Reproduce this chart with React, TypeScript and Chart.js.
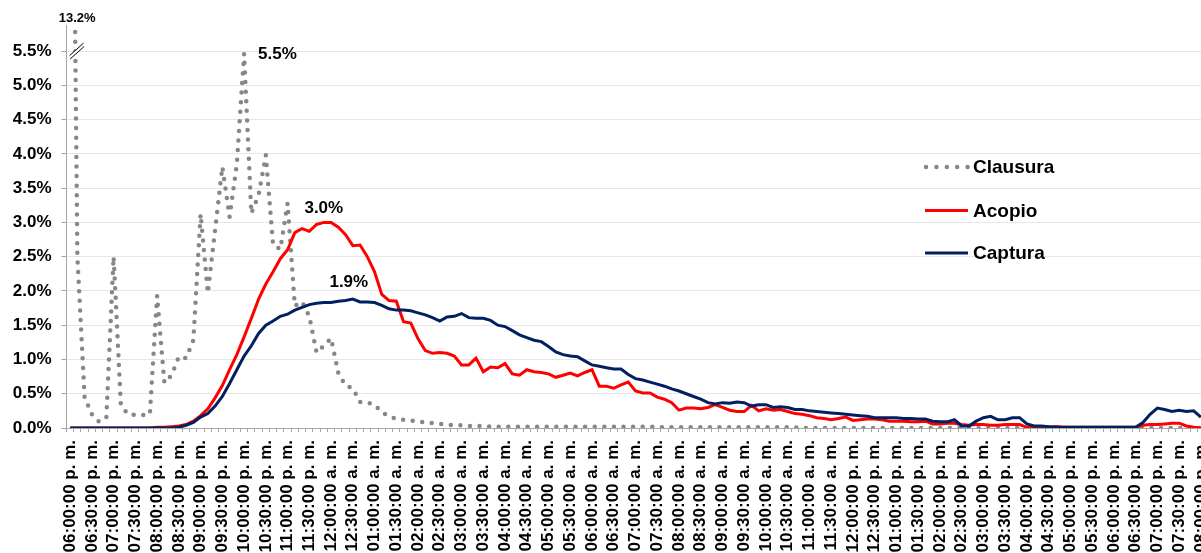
import React, { useEffect, useRef } from 'react';
import { Chart, registerables } from 'chart.js';

Chart.register(...registerables);

// ---------- data ----------
const TICK_LABELS = [
  '06:00:00 p. m.', '06:30:00 p. m.', '07:00:00 p. m.', '07:30:00 p. m.', '08:00:00 p. m.', '08:30:00 p. m.',
  '09:00:00 p. m.', '09:30:00 p. m.', '10:00:00 p. m.', '10:30:00 p. m.', '11:00:00 p. m.', '11:30:00 p. m.',
  '12:00:00 a. m.', '12:30:00 a. m.', '01:00:00 a. m.', '01:30:00 a. m.', '02:00:00 a. m.', '02:30:00 a. m.',
  '03:00:00 a. m.', '03:30:00 a. m.', '04:00:00 a. m.', '04:30:00 a. m.', '05:00:00 a. m.', '05:30:00 a. m.',
  '06:00:00 a. m.', '06:30:00 a. m.', '07:00:00 a. m.', '07:30:00 a. m.', '08:00:00 a. m.', '08:30:00 a. m.',
  '09:00:00 a. m.', '09:30:00 a. m.', '10:00:00 a. m.', '10:30:00 a. m.', '11:00:00 a. m.', '11:30:00 a. m.',
  '12:00:00 p. m.', '12:30:00 p. m.', '01:00:00 p. m.', '01:30:00 p. m.', '02:00:00 p. m.', '02:30:00 p. m.',
  '03:00:00 p. m.', '03:30:00 p. m.', '04:00:00 p. m.', '04:30:00 p. m.', '05:00:00 p. m.', '05:30:00 p. m.',
  '06:00:00 p. m.', '06:30:00 p. m.', '07:00:00 p. m.', '07:30:00 p. m.', '08:00:00 p. m.',
];

// one value every 10 minutes, 06:00 p. m. -> 08:00 p. m. (157 points)
const CLAUSURA = [
  13.2, 2.5, 0.44, 0.2, 0.09, 0.16, 2.5, 0.33, 0.2, 0.19,
  0.19, 0.2, 1.93, 0.66, 0.77, 1.04, 1.02, 1.28, 3.12, 1.97,
  2.89, 3.81, 3.08, 3.85, 5.46, 3.13, 3.4, 3.98, 2.67, 2.61,
  3.28, 1.78, 1.84, 1.63, 1.1, 1.2, 1.31, 0.8, 0.62, 0.58,
  0.38, 0.37, 0.34, 0.23, 0.17, 0.13, 0.12, 0.11, 0.1, 0.08,
  0.07, 0.06, 0.05, 0.04, 0.04, 0.03, 0.03, 0.03, 0.02, 0.02,
  0.02, 0.02, 0.02, 0.02, 0.02, 0.02, 0.02, 0.02, 0.02, 0.02,
  0.02, 0.02, 0.02, 0.02, 0.02, 0.02, 0.02, 0.02, 0.02, 0.02,
  0.02, 0.01, 0.01, 0.01, 0.01, 0.01, 0.01, 0.01, 0.01, 0.01,
  0.01, 0.01, 0.01, 0.01, 0.01, 0.01, 0.01, 0.01, 0.01, 0.01,
  0.01, 0, 0, 0, 0, 0, 0, 0, 0, 0,
  0, 0, 0, 0, 0, 0, 0, 0, 0, 0,
  0, 0, 0, 0, 0, 0, 0, 0, 0, 0,
  0, 0, 0, 0, 0, 0, 0, 0, 0, 0,
  0, 0, 0, 0, 0, 0, 0, 0, 0, 0,
  0, 0, 0, 0, 0, 0, 0,
];

const ACOPIO = [
  0, 0, 0, 0, 0, 0, 0, 0, 0, 0,
  0, 0, 0.01, 0.01, 0.02, 0.03, 0.05, 0.1, 0.18, 0.28,
  0.44, 0.62, 0.85, 1.07, 1.33, 1.6, 1.88, 2.1, 2.28, 2.47,
  2.6, 2.85, 2.91, 2.87, 2.97, 3.0, 3.0, 2.93, 2.82, 2.66,
  2.67, 2.5, 2.28, 1.95, 1.86, 1.85, 1.55, 1.53, 1.3, 1.13,
  1.09, 1.1, 1.09, 1.05, 0.92, 0.92, 1.02, 0.82, 0.89, 0.88,
  0.94, 0.79, 0.77, 0.85, 0.82, 0.81, 0.79, 0.74, 0.77, 0.8,
  0.76, 0.81, 0.85, 0.61, 0.61, 0.58, 0.63, 0.67, 0.54, 0.51,
  0.51, 0.45, 0.42, 0.37, 0.26, 0.29, 0.29, 0.28, 0.3, 0.34,
  0.3, 0.26, 0.24, 0.24, 0.33, 0.25, 0.28, 0.26, 0.27, 0.24,
  0.21, 0.2, 0.18, 0.15, 0.14, 0.12, 0.14, 0.16, 0.11, 0.12,
  0.13, 0.13, 0.12, 0.1, 0.1, 0.1, 0.09, 0.09, 0.1, 0.06,
  0.06, 0.07, 0.07, 0.05, 0.04, 0.05, 0.05, 0.04, 0.04, 0.05,
  0.05, 0.05, 0.01, 0.01, 0, 0.01, 0.02, 0.01, 0.01, 0.01,
  0.01, 0.01, 0.01, 0.01, 0.01, 0.01, 0.01, 0.01, 0.04, 0.05,
  0.05, 0.06, 0.07, 0.07, 0.03, 0.01, 0,
];

const CAPTURA = [
  0, 0, 0, 0, 0, 0, 0, 0, 0, 0,
  0, 0, 0, 0, 0, 0.01, 0.04, 0.08, 0.16, 0.21,
  0.32, 0.46, 0.65, 0.85, 1.05, 1.2, 1.38, 1.5, 1.56, 1.63,
  1.66, 1.72, 1.76, 1.8, 1.82, 1.83, 1.83, 1.85, 1.86, 1.88,
  1.84, 1.84, 1.83, 1.79, 1.74, 1.72, 1.72, 1.71, 1.68, 1.65,
  1.61, 1.56, 1.62, 1.63, 1.67, 1.61, 1.6, 1.6, 1.57, 1.5,
  1.48, 1.42, 1.36, 1.32, 1.28, 1.26, 1.19, 1.11, 1.07, 1.05,
  1.04, 0.98, 0.92, 0.9, 0.88, 0.86, 0.86, 0.78, 0.72, 0.7,
  0.67, 0.64, 0.61, 0.57, 0.54, 0.5, 0.46, 0.42, 0.37, 0.35,
  0.37, 0.36, 0.38, 0.37, 0.32, 0.34, 0.34, 0.3, 0.31, 0.3,
  0.27, 0.27, 0.25, 0.24, 0.23, 0.22, 0.21, 0.2, 0.19, 0.18,
  0.17, 0.15, 0.15, 0.15, 0.15, 0.14, 0.14, 0.13, 0.13, 0.1,
  0.09, 0.09, 0.12, 0.03, 0.03, 0.1, 0.15, 0.17, 0.12, 0.12,
  0.15, 0.15, 0.06, 0.03, 0.03, 0.02, 0.01, 0.01, 0.01, 0.01,
  0.01, 0.01, 0.01, 0.01, 0.01, 0.01, 0.01, 0.01, 0.08, 0.2,
  0.29, 0.27, 0.24, 0.26, 0.24, 0.25, 0.16,
];

const SERIES_NAMES = ['Clausura', 'Acopio', 'Captura'];
const Y_MAX = 5.88;
const Y_TOP_TICK = 5.5;

// ---------- styles ----------
const FONT = '"Liberation Sans", Arial, sans-serif';
const GREY_DOTS = '#878787';
const RED = '#ff0000';
const NAVY = '#002060';
const AXIS = '#a6a6a6';
const GRID = '#e6e6e6';
const CANVAS_W = 1240;
const CANVAS_H = 553;
const PLOT_LEFT = 66.5;
const PLOT_RIGHT = 1204.5;
const PLOT_TOP = 25;
const PLOT_BOTTOM = 428;
const DOT_DASH = [0, 9.6];

export default function App() {
  const ref = useRef<HTMLCanvasElement | null>(null);

  useEffect(() => {
    if (!ref.current) return;
    const categories = CLAUSURA.map((_, i) => (i % 3 === 0 ? TICK_LABELS[i / 3] ?? '' : ''));

    const decor = {
      id: 'decor',
      afterDatasetsDraw(chart: any) {
        const ctx = chart.ctx as CanvasRenderingContext2D;
        const xs = chart.scales.x;
        const ys = chart.scales.y;
        ctx.save();

        // axis break mark on the first (off-scale) point
        const cx = xs.getPixelForValue(0) + 6.5;
        const cy = ys.getPixelForValue(Y_TOP_TICK) + 0.5;
        ctx.fillStyle = '#ffffff';
        ctx.beginPath();
        ctx.moveTo(cx - 7, cy + 4);
        ctx.lineTo(cx + 7, cy - 8.5);
        ctx.lineTo(cx + 7.5, cy - 5);
        ctx.lineTo(cx - 6.5, cy + 7.5);
        ctx.closePath();
        ctx.fill();
        ctx.strokeStyle = '#000000';
        ctx.lineWidth = 1;
        ctx.beginPath();
        ctx.moveTo(cx - 7, cy + 4);
        ctx.lineTo(cx + 7, cy - 8.5);
        ctx.moveTo(cx - 6.5, cy + 7.5);
        ctx.lineTo(cx + 7.5, cy - 5);
        ctx.stroke();

        // data labels
        ctx.fillStyle = '#000000';
        ctx.textBaseline = 'middle';
        ctx.font = `bold 13px ${FONT}`;
        ctx.textAlign = 'center';
        ctx.fillText(`${CLAUSURA[0].toFixed(1)}%`, xs.getPixelForValue(0) + 7, chart.chartArea.top - 7);

        ctx.font = `bold 17px ${FONT}`;
        const iC = CLAUSURA.indexOf(Math.max(...CLAUSURA.slice(1)));
        ctx.textAlign = 'left';
        ctx.fillText(`${CLAUSURA[iC].toFixed(1)}%`, xs.getPixelForValue(iC) + 14, ys.getPixelForValue(CLAUSURA[iC]) + 1);

        const aMax = Math.max(...ACOPIO);
        const iA = ACOPIO.indexOf(aMax);
        ctx.textAlign = 'center';
        ctx.fillText(`${aMax.toFixed(1)}%`, xs.getPixelForValue(iA), ys.getPixelForValue(aMax) - 14);

        const bMax = Math.max(...CAPTURA);
        const iB = CAPTURA.indexOf(bMax);
        ctx.fillText(`${bMax.toFixed(1)}%`, xs.getPixelForValue(iB) - 4, ys.getPixelForValue(bMax) - 17);

        // legend
        const lx0 = 926;
        const lx1 = 968;
        const rows = [167, 210.5, 253];
        ctx.lineCap = 'round';
        ctx.lineWidth = 4.5;
        ctx.strokeStyle = GREY_DOTS;
        ctx.setLineDash([0, 10.4]);
        ctx.beginPath();
        ctx.moveTo(lx0, rows[0]);
        ctx.lineTo(lx1 + 0.5, rows[0]);
        ctx.stroke();
        ctx.setLineDash([]);
        ctx.lineCap = 'butt';
        ctx.lineWidth = 3;
        ctx.strokeStyle = RED;
        ctx.beginPath();
        ctx.moveTo(lx0 - 1, rows[1]);
        ctx.lineTo(lx1, rows[1]);
        ctx.stroke();
        ctx.strokeStyle = NAVY;
        ctx.beginPath();
        ctx.moveTo(lx0 - 1, rows[2]);
        ctx.lineTo(lx1, rows[2]);
        ctx.stroke();

        ctx.fillStyle = '#000000';
        ctx.font = `bold 19px ${FONT}`;
        ctx.textAlign = 'left';
        ctx.textBaseline = 'middle';
        SERIES_NAMES.forEach((n, k) => ctx.fillText(n, 973, rows[k] + 1));

        ctx.restore();
      },
    };

    const chart = new Chart(ref.current, {
      type: 'line',
      data: {
        labels: categories,
        datasets: [
          {
            label: SERIES_NAMES[0],
            data: CLAUSURA,
            borderColor: GREY_DOTS,
            borderWidth: 4.5,
            borderDash: DOT_DASH,
            borderCapStyle: 'round',
            borderJoinStyle: 'round',
            pointRadius: 0,
            fill: false,
            order: 3,
          },
          {
            label: SERIES_NAMES[1],
            data: ACOPIO,
            borderColor: RED,
            borderWidth: 3,
            pointRadius: 0,
            fill: false,
            order: 2,
          },
          {
            label: SERIES_NAMES[2],
            data: CAPTURA,
            borderColor: NAVY,
            borderWidth: 3,
            pointRadius: 0,
            fill: false,
            order: 1,
          },
        ],
      },
      options: {
        responsive: false,
        animation: false,
        devicePixelRatio: 1,
        layout: { padding: { top: PLOT_TOP, right: CANVAS_W - PLOT_RIGHT, left: 0, bottom: 0 } },
        plugins: { legend: { display: false }, tooltip: { enabled: false } },
        elements: { line: { tension: 0 }, point: { radius: 0 } },
        scales: {
          x: {
            type: 'category',
            offset: true,
            grid: {
              display: true,
              drawOnChartArea: false,
              drawTicks: true,
              tickLength: 4,
              offset: true,
              color: AXIS,
            },
            border: { display: true, color: AXIS, width: 1 },
            ticks: {
              autoSkip: false,
              maxRotation: 90,
              minRotation: 90,
              padding: 8,
              color: '#000000',
              font: { family: FONT, size: 17, weight: 'bold' },
            },
            afterFit: (s: any) => {
              s.height = CANVAS_H - PLOT_BOTTOM;
              s.paddingLeft = 0;
              s.paddingRight = 0;
            },
          },
          y: {
            min: 0,
            max: Y_MAX,
            ticks: {
              stepSize: 0.5,
              padding: 10,
              color: '#000000',
              font: { family: FONT, size: 17, weight: 'bold' },
              callback: (v: any) => `${Number(v).toFixed(1)}%`,
            },
            afterBuildTicks: (s: any) => {
              s.ticks = s.ticks.filter((t: any) => t.value <= Y_TOP_TICK + 1e-6);
            },
            grid: { color: GRID, lineWidth: 1, tickColor: AXIS, tickLength: 5 },
            border: { display: true, color: AXIS, width: 1 },
            afterFit: (s: any) => {
              s.width = PLOT_LEFT;
              s.paddingTop = 0;
              s.paddingBottom = 0;
            },
          },
        },
      },
      plugins: [decor],
    } as any);

    return () => chart.destroy();
  }, []);

  return (
    <div
      style={{
        position: 'absolute',
        left: 0,
        top: 0,
        width: 1201,
        height: 553,
        overflow: 'hidden',
        background: '#ffffff',
      }}
    >
      <canvas
        ref={ref}
        width={CANVAS_W}
        height={CANVAS_H}
        style={{ display: 'block', width: CANVAS_W, height: CANVAS_H }}
      />
    </div>
  );
}
